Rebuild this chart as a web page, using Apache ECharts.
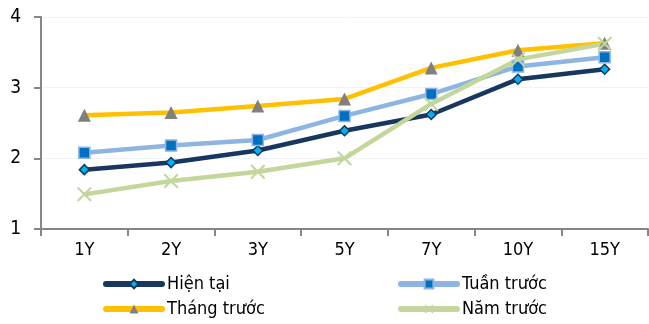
<!DOCTYPE html>
<html>
<head>
<meta charset="utf-8">
<script src="https://cdn.jsdelivr.net/npm/echarts@6/dist/echarts.min.js"></script>
<style>
  html, body { margin: 0; padding: 0; background: #fff; }
  #chart { width: 649px; height: 324px; }
</style>
</head>
<body>
<div id="chart"></div>
<script>
// Yield curve tenors and rates (%)
const tenors = ['1Y', '2Y', '3Y', '5Y', '7Y', '10Y', '15Y'];
const hienTai    = [1.84, 1.94, 2.11, 2.39, 2.62, 3.12, 3.26];
const tuanTruoc  = [2.08, 2.18, 2.26, 2.60, 2.91, 3.30, 3.43];
const thangTruoc = [2.61, 2.65, 2.74, 2.84, 3.28, 3.53, 3.63];
const namTruoc   = [1.49, 1.68, 1.81, 2.00, 2.77, 3.40, 3.62];
const yTicks = [1, 2, 3, 4];

const FONT = 'DejaVu Sans Condensed, DejaVu Sans, sans-serif';
// thin "x" marker outline
const crossPath = 'path://M1,0 L5,4 L9,0 L10,1 L6,5 L10,9 L9,10 L5,6 L1,10 L0,9 L4,5 L0,1 Z';

const chart = echarts.init(document.getElementById('chart'), null, { renderer: 'canvas' });

function lineSeries(name, data, color, symbol, size, fill, border, borderW) {
  return {
    name, type: 'line', data,
    symbol, symbolSize: size, showSymbol: true,
    lineStyle: { color, width: 4.5 },
    itemStyle: { color: fill, borderColor: border, borderWidth: borderW },
    emphasis: { disabled: true },
    animation: false
  };
}

const legendText = { fontFamily: FONT, fontSize: 18, color: '#000' };
const legendBase = {
  orient: 'vertical', top: 275, itemWidth: 56, itemHeight: 11, itemGap: 7,
  textStyle: legendText, padding: 0,
  lineStyle: { width: 6, cap: 'round' }
};

chart.setOption({
  animation: false,
  grid: { left: 41, right: 1, top: 17, bottom: 95, containLabel: false },
  legend: [
    Object.assign({ data: ['Hiện tại', 'Tháng trước'], left: 103 }, legendBase),
    Object.assign({ data: ['Tuần trước', 'Năm trước'], left: 398 }, legendBase)
  ],
  xAxis: {
    type: 'category', data: tenors, boundaryGap: true,
    axisLine: { lineStyle: { color: '#868686', width: 2 } },
    axisTick: { show: true, length: 7, lineStyle: { color: '#868686', width: 2 } },
    axisLabel: { fontFamily: FONT, fontSize: 18, color: '#000', margin: 12 },
    splitLine: { show: false }
  },
  yAxis: {
    type: 'value', min: yTicks[0], max: yTicks[yTicks.length - 1], interval: 1,
    axisLine: { show: true, lineStyle: { color: '#868686', width: 2 } },
    axisTick: { show: true, length: 7, lineStyle: { color: '#868686', width: 2 } },
    axisLabel: { fontFamily: FONT, fontSize: 19, color: '#000', margin: 20 },
    splitLine: { show: true, lineStyle: { color: '#eef4fa', width: 1 } }
  },
  series: [
    lineSeries('Hiện tại', hienTai, '#17375e', 'diamond', 10, '#00b0f0', '#17375e', 1.5),
    lineSeries('Tuần trước', tuanTruoc, '#8db4e2', 'rect', 11, '#0070c0', '#8db4e2', 1.5),
    lineSeries('Tháng trước', thangTruoc, '#ffc000', 'triangle', 13, '#808080', '#808080', 0),
    lineSeries('Năm trước', namTruoc, '#c3d69b', crossPath, 15, '#c3d69b', '#c3d69b', 0)
  ]
});
</script>
</body>
</html>
